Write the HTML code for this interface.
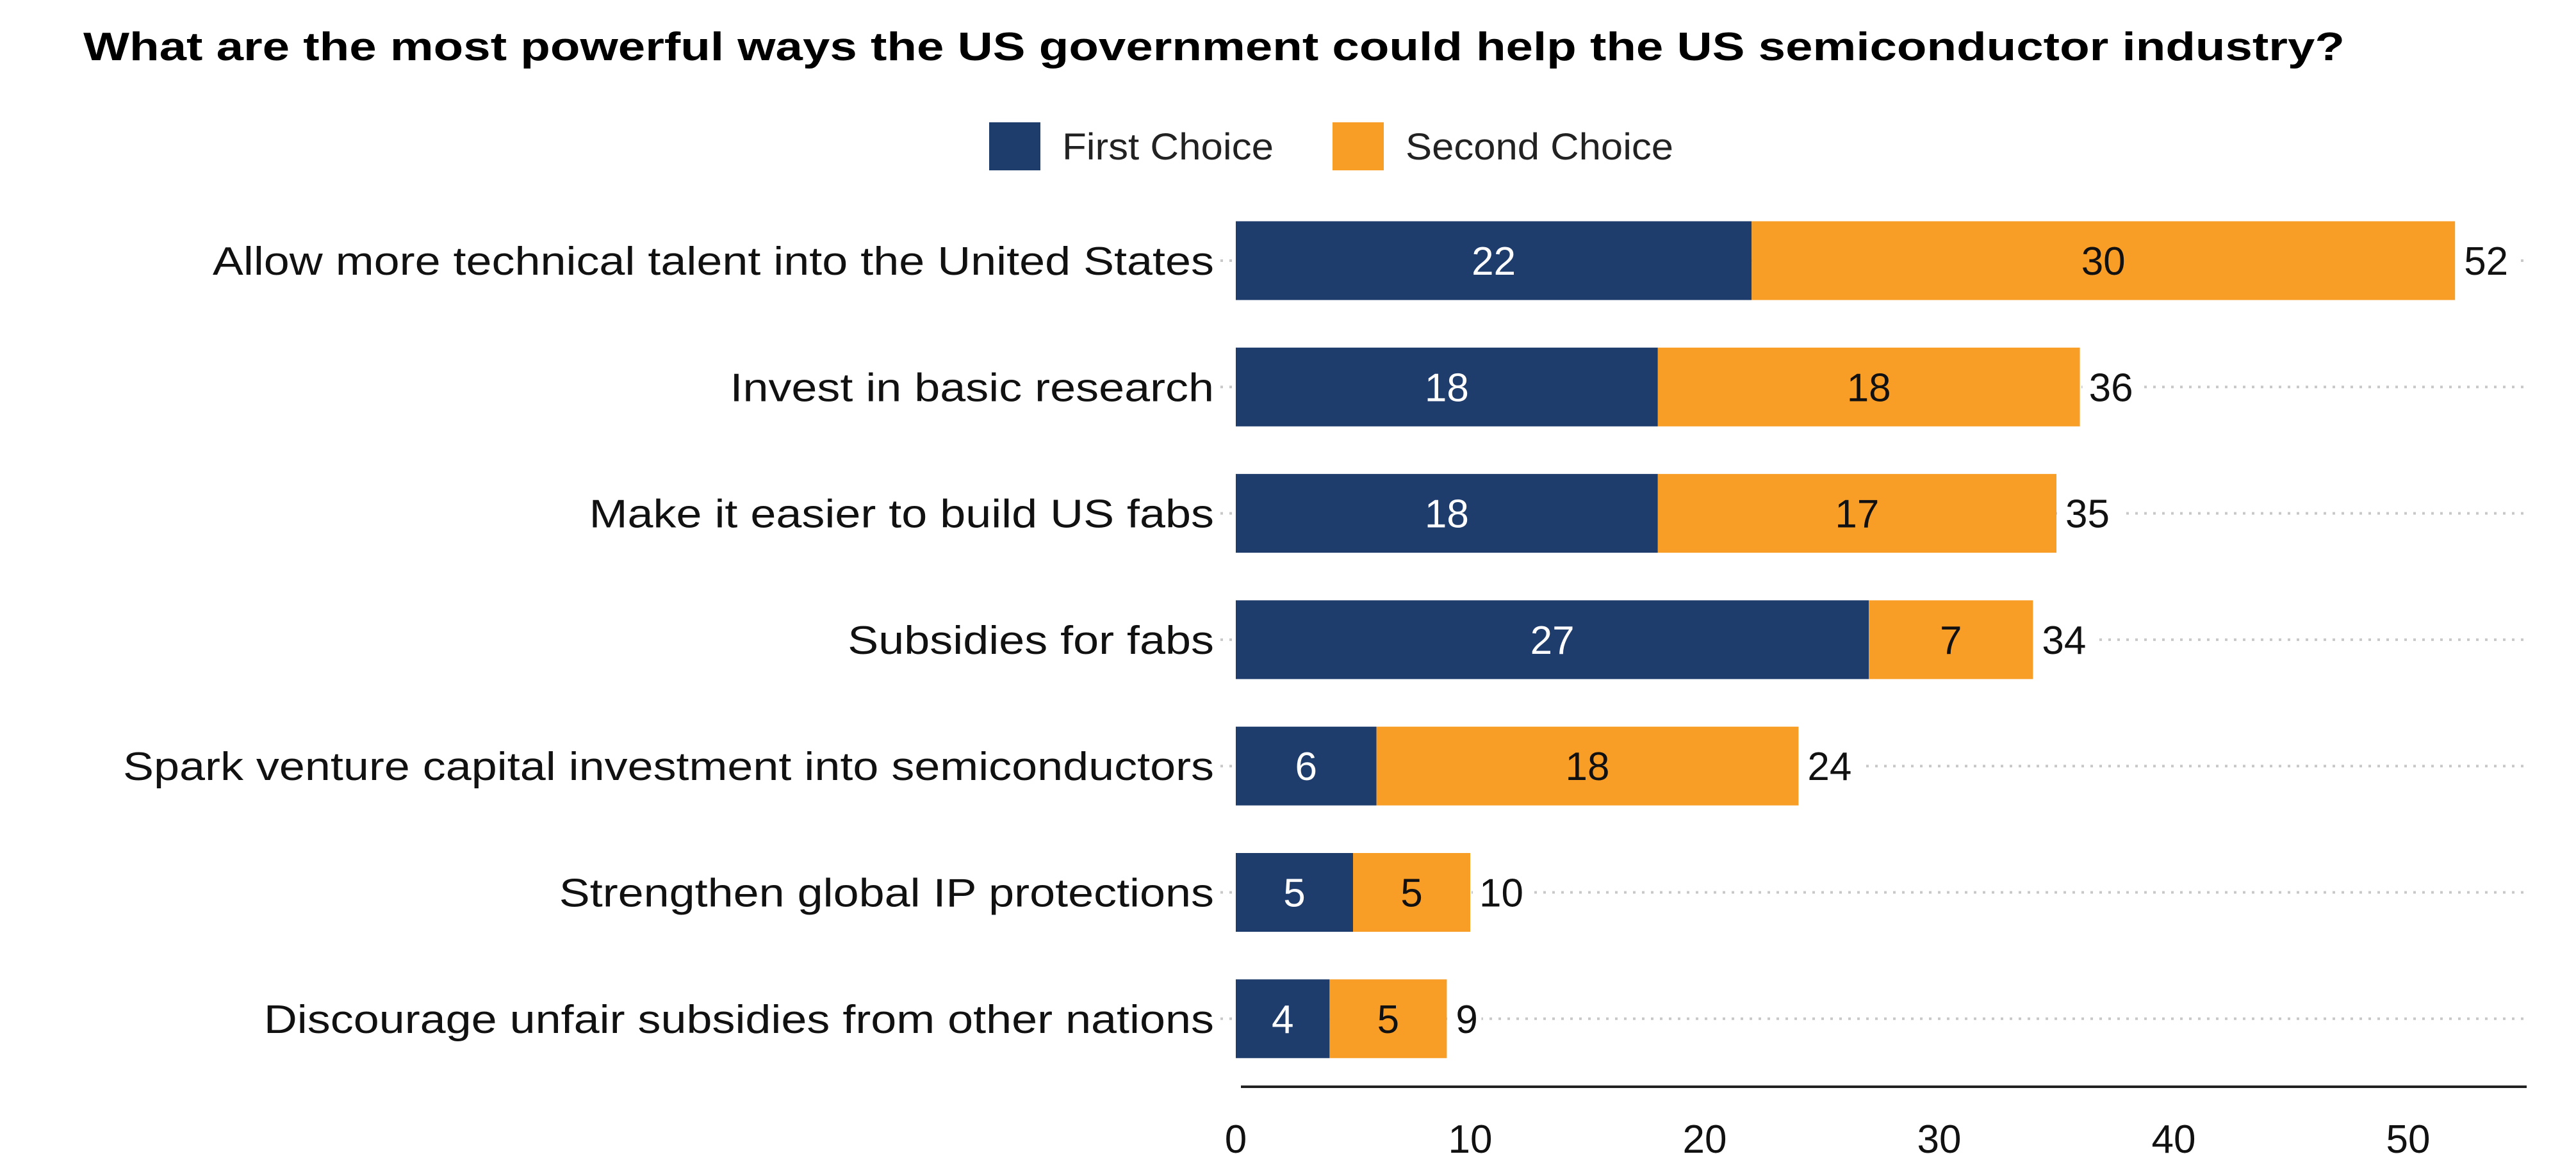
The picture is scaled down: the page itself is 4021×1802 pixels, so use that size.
<!DOCTYPE html>
<html><head><meta charset="utf-8"><style>body{margin:0;background:#fff}svg{display:block}text{font-family:"Liberation Sans",sans-serif}</style></head>
<body>
<svg id="chart" width="4021" height="1802" viewBox="0 0 4021 1802" xmlns="http://www.w3.org/2000/svg">
<text x="130" y="94" font-size="62" font-weight="bold" textLength="3530" lengthAdjust="spacingAndGlyphs">What are the most powerful ways the US government could help the US semiconductor industry?</text>
<g>
<rect x="1544" y="191" width="80" height="75" fill="#1f3d6c"/>
<text x="1658" y="249" font-size="58" fill="#222" textLength="330" lengthAdjust="spacingAndGlyphs">First Choice</text>
<rect x="2080" y="191" width="80" height="75" fill="#f89e27"/>
<text x="2194" y="249" font-size="58" fill="#222" textLength="418" lengthAdjust="spacingAndGlyphs">Second Choice</text>
</g>
<g id="plot"></g>
</svg>
<script>
const categories = ["Allow more technical talent into the United States","Invest in basic research","Make it easier to build US fabs","Subsidies for fabs","Spark venture capital investment into semiconductors","Strengthen global IP protections","Discourage unfair subsidies from other nations"];
const firstChoice = [22,18,18,27,6,5,4];
const secondChoice = [30,18,17,7,18,5,5];
const xTicks = [0,10,20,30,40,50];

const NS="http://www.w3.org/2000/svg";
const plot=document.getElementById('plot');
const x0=1929, unit=36.6;
const xs=v=>x0+v*unit;
const yc=i=>407+i*197.3;
const bh=123;
function mk(tag,attrs,txt){const e=document.createElementNS(NS,tag);for(const k in attrs)e.setAttribute(k,attrs[k]);if(txt!==undefined)e.textContent=txt;plot.appendChild(e);return e;}
function stretch(e,f){const w=e.getComputedTextLength();e.setAttribute('textLength',w*f);e.setAttribute('lengthAdjust','spacingAndGlyphs');}
categories.forEach((c,i)=>{
  const y=yc(i), f=firstChoice[i], s=secondChoice[i], t=f+s;
  const g=mk('line',{x1:1905,x2:3944,y1:y,y2:y,stroke:'#c8c8c8','stroke-width':4,'stroke-dasharray':'4 10'});
  
  
  const lb=mk('text',{x:1895,y:y+22,'font-size':62,'text-anchor':'end',fill:'#111'},c);
  
  
  stretch(lb,1.16);
  const b1=mk('rect',{x:xs(0),y:y-bh/2,width:xs(f)-xs(0),height:bh,fill:'#1f3d6c'});
  
  
  const b2=mk('rect',{x:xs(f),y:y-bh/2,width:xs(t)-xs(f),height:bh,fill:'#f89e27'});
  
  
  const v1=mk('text',{x:(xs(0)+xs(f))/2,y:y+22,'font-size':62,'text-anchor':'middle',fill:'#fff'},f);
  
  
  const v2=mk('text',{x:(xs(f)+xs(t))/2,y:y+22,'font-size':62,'text-anchor':'middle',fill:'#111'},s);
  
  
  const bg=mk('rect',{x:xs(t)+4,y:y-35,width:t>=10?95:50,height:70,fill:'#fff'});
  
  
  const tl=mk('text',{x:xs(t)+14,y:y+22,'font-size':62,fill:'#111'},t);
  
  
});
const ax=mk('line',{x1:1937,x2:3944,y1:1697,y2:1697,stroke:'#222','stroke-width':4});


xTicks.forEach(v=>{
  const t=mk('text',{x:xs(v),y:1800,'font-size':62,'text-anchor':'middle',fill:'#111'},v);
  
  
});
</script>
</body></html>
